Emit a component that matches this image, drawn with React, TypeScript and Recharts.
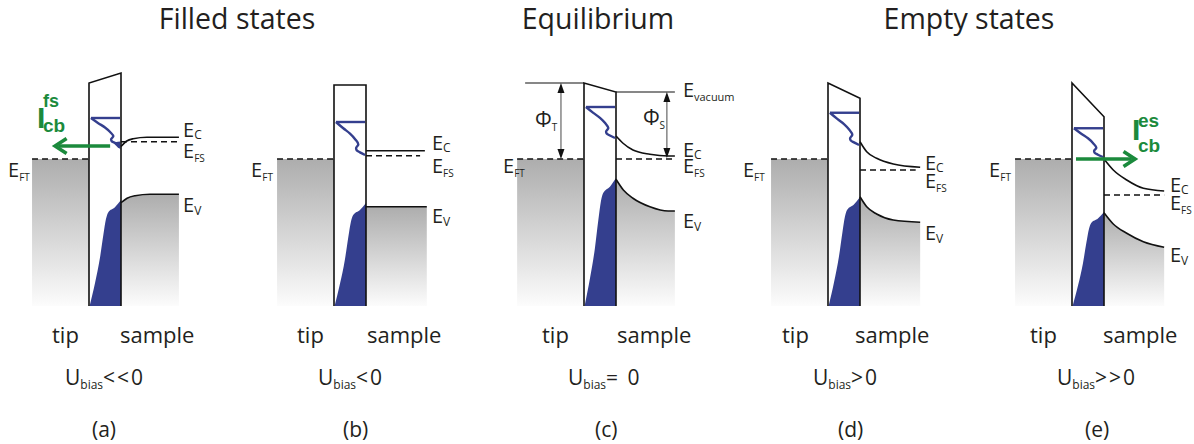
import React from "react";
import { ComposedChart, Area, Line, XAxis, YAxis, ReferenceDot } from "recharts";

// Energies in eV measured from the tip Fermi level E_FT.
// Distance in barrier widths: 0 = tip surface, 1 = sample surface.
const E_BOTTOM = -5.88;

const titles = ["Filled states", "Equilibrium", "Empty states"];
const panelNames = ["(a)", "(b)", "(c)", "(d)", "(e)"];
const biasText = ["<<0", "<0", "= 0", ">0", ">>0"];

const tipStart = [-1.78, -1.78, -2.09, -1.78, -1.78];
const barrierTopTip = [3.04, 2.96, 3.04, 3.04, 3.04];
const barrierTopSample = [3.44, 2.96, 2.68, 2.43, 1.69];
const efs = [0.69, 0.13, 0, -0.44, -1.44];
const efsEnd = [2.78, 2.69, 2.84, 2.74, 2.88];

// conduction band edge [x, E]
const ecA = [[1, 0.5], [1.18, 0.72], [1.38, 0.81], [1.81, 0.87], [2.81, 0.87]];
const ecB = [[1, 0.33], [2.84, 0.33]];
const ecC = [[1, 0.92], [1.22, 0.63], [1.53, 0.36], [2.06, 0.19], [2.63, 0.12], [2.84, 0.12]];
const ecD = [[1, 0.69], [1.21, 0.29], [1.52, 0.03], [2.04, -0.2], [2.88, -0.33]];
const ecE = [[1, 0], [1.29, -0.44], [1.71, -0.84], [2.23, -1.17], [2.88, -1.28]];

// valence band edge [x, E]
const evA = [[1, -1.75], [1.19, -1.57], [1.44, -1.47], [1.91, -1.41], [2.81, -1.41]];
const evB = [[1, -1.91], [2.9, -1.91]];
const evC = [[1, -0.81], [1.23, -1.24], [1.53, -1.57], [2.06, -1.91], [2.63, -2.08], [2.84, -2.08]];
const evD = [[1, -1.51], [1.21, -1.91], [1.52, -2.2], [2.04, -2.44], [2.88, -2.53]];
const evE = [[1, -2.15], [1.29, -2.6], [1.71, -2.97], [2.23, -3.31], [2.88, -3.53]];

const ec = [ecA, ecB, ecC, ecD, ecE];
const ev = [evA, evB, evC, evD, evE];

// tip DOS: empty states (line) and filled states (area); shape = [x, fraction of span from top]
const emptyTop = [1.64, 1.48, 2.08, 1.85, 1.23];
const emptyBottom = [0.56, 0.16, 0.84, 0.56, 0.08];
const emptyShape = [[0.06, 0], [0.29, 0.19], [0.5, 0.35], [0.66, 0.52], [0.76, 0.68], [0.69, 0.79], [0.71, 0.86], [0.81, 0.92], [0.97, 1]];
const filledTop = [-1.64, -1.76, -0.76, -1.52, -2.12];
const filledShape = [[0.02, 1], [0.19, 0.78], [0.34, 0.55], [0.45, 0.325], [0.53, 0.18], [0.6, 0.117], [0.81, 0.068], [1, 0]];
// occupied conduction band pocket in (a): [x, low, high]
const pocketA = [[0.78, 0.62, 0.66], [0.9, 0.46, 0.69], [0.98, 0.4, 0.7]];

// vacuum level and work functions in (c)
const vacuumTip = 3.04;
const vacuumSample = 2.68;
const phiT = [-0.72, 3.04, 0];
const phiS = [2.59, 2.68, 0.04];

// tunnelling current arrows: panel, from x, to x, E
const currents = [
  { panel: 0, from: 0.66, to: -1.06, e: 0.52 },
  { panel: 4, from: 0.125, to: 1.97, e: 0 },
];

// label anchors
const rightLabelX = [2.94, 3.06, 3.09, 3.03, 3.06];
const ecLabelE = [0.88, 0.36, 0.08, -0.44, -1.32];
const efsLabelE = [0.04, -0.56, -0.56, -1.16, -2.04];
const evLabelE = [-2.12, -2.56, -2.76, -3.24, -4.12];
const eftLabelX = [-2.53, -2.59, -2.53, -2.66, -2.59];
const eftLabelE = [-0.72, -0.72, -0.56, -0.72, -0.72];

// layout (pixels)
const barrierLeftPx = [89, 334, 584, 828, 1072];
const titleX = [237, 598, 969];
const tipX = [52, 297, 542, 782, 1030];
const sampleX = [120, 367, 617, 855, 1103];
const biasX = [65, 318, 568, 813, 1057];
const nameX = [92, 343, 595, 838, 1085];

const FONT = "'Open Sans', sans-serif";
const INK = "#231f20";
const BLUE = "#343f8e";
const GREEN = "#1b8a3c";

const Sym = ({ x, y, main, sub, size = 20, subSize = 11, dy = 4 }: any) => (
  <text x={x} y={y} fontFamily={FONT} fontSize={size} fill={INK}>
    {main}
    <tspan fontSize={subSize} dy={dy}>{sub}</tspan>
  </text>
);

const pts = (arr: number[][]) => arr.map(([x, y]) => ({ x, y }));

const Panel = ({ i }: { i: number }) => {
  const gid = `gray${i}`;
  const tipArea = [{ x: tipStart[i], r: [E_BOTTOM, 0] }, { x: 0, r: [E_BOTTOM, 0] }];
  const sampleArea = ev[i].map(([x, e]) => ({ x, r: [E_BOTTOM, e] }));
  const fillArea = filledShape.map(([x, t]) => ({
    x,
    r: [E_BOTTOM, filledTop[i] - t * (filledTop[i] - E_BOTTOM)],
  }));
  const emptyLine = emptyShape.map(([x, t]) => ({
    x,
    y: emptyTop[i] - t * (emptyTop[i] - emptyBottom[i]),
  }));
  const barrier = pts([[0, E_BOTTOM], [0, barrierTopTip[i]], [1, barrierTopSample[i]], [1, E_BOTTOM]]);
  const cur = currents.find((c) => c.panel === i);
  const sgn = cur ? Math.sign(cur.from - cur.to) : 1;
  const plain = { dot: false, activeDot: false, isAnimationActive: false } as any;
  const black = { ...plain, stroke: "#111", strokeWidth: 1.6 };
  const dashed = { ...black, strokeDasharray: "6 4" };
  const region = { fillOpacity: 1, stroke: "none", activeDot: false, isAnimationActive: false } as any;

  return (
    <div style={{ position: "absolute", left: barrierLeftPx[i] - 96, top: 0, pointerEvents: "none" }}>
      <ComposedChart width={272} height={444} margin={{ top: 0, right: 0, bottom: 0, left: 0 }}>
        <defs>
          <linearGradient id={gid} x1="0" y1="0" x2="0" y2="1">
            <stop offset="0%" stopColor="#adadad" />
            <stop offset="100%" stopColor="#fcfcfc" />
          </linearGradient>
        </defs>
        <XAxis type="number" dataKey="x" domain={[-3, 5.5]} allowDataOverflow hide />
        <YAxis type="number" domain={[-11.4, 6.36]} allowDataOverflow hide />

        <Area data={tipArea} dataKey="r" type="linear" fill={`url(#${gid})`} {...region} />
        <Area data={sampleArea} dataKey="r" type="monotone" fill={`url(#${gid})`} {...region} />
        <Area data={fillArea} dataKey="r" type="monotone" fill={BLUE} {...region} />
        {i === 0 && (
          <Area data={pocketA.map(([x, lo, hi]) => ({ x, r: [lo, hi] }))} dataKey="r" type="linear" fill={BLUE} {...region} />
        )}

        <Line data={barrier} dataKey="y" type="linear" {...black} />
        <Line data={pts([[0.97, emptyTop[i]], [0.06, emptyTop[i]]])} dataKey="y" type="linear" stroke={BLUE} strokeWidth={2.4} {...plain} />
        <Line data={emptyLine} dataKey="y" type="monotoneY" stroke={BLUE} strokeWidth={2.4} {...plain} />

        <Line data={pts(ec[i])} dataKey="y" type="monotone" {...black} />
        <Line data={pts(ev[i])} dataKey="y" type="monotone" {...black} />
        <Line data={pts([[tipStart[i], 0], [0, 0]])} dataKey="y" type="linear" {...dashed} />
        <Line data={pts([[1, efs[i]], [efsEnd[i], efs[i]]])} dataKey="y" type="linear" {...dashed} />

        {i === 2 && [
          <Line key="vt" data={pts([[-1.84, vacuumTip], [0, vacuumTip]])} dataKey="y" type="linear" {...black} strokeWidth={1.2} />,
          <Line key="vs" data={pts([[1, vacuumSample], [2.84, vacuumSample]])} dataKey="y" type="linear" {...black} strokeWidth={1.2} />,
          ...[phiT, phiS].map(([x, hi, lo], k) => (
            <Line key={`phi${k}`} data={pts([[x, hi - 0.3], [x, lo + 0.3]])} dataKey="y" type="linear" stroke="#666" strokeWidth={1.2} {...plain} />
          )),
          ...[phiT, phiS].flatMap(([x, hi, lo], k) => [
            <ReferenceDot key={`hu${k}`} x={x} y={hi} ifOverflow="visible"
              shape={(p: any) => <path d={`M${p.cx},${p.cy} l-3.5,10 l7,0 z`} fill="#111" />} />,
            <ReferenceDot key={`hd${k}`} x={x} y={lo} ifOverflow="visible"
              shape={(p: any) => <path d={`M${p.cx},${p.cy} l-3.5,-10 l7,0 z`} fill="#111" />} />,
          ]),
          <ReferenceDot key="lt" x={-1.53} y={1.28} ifOverflow="visible"
            shape={(p: any) => <Sym x={p.cx} y={p.cy} main="Φ" sub="T" size={21} subSize={10} />} />,
          <ReferenceDot key="ls" x={1.84} y={1.36} ifOverflow="visible"
            shape={(p: any) => <Sym x={p.cx} y={p.cy} main="Φ" sub="S" size={21} subSize={10} />} />,
          <ReferenceDot key="lv" x={3.09} y={2.48} ifOverflow="visible"
            shape={(p: any) => <Sym x={p.cx} y={p.cy} main="E" sub="vacuum" subSize={11} />} />,
        ]}

        {cur && [
          <Line key="cl" data={pts([[cur.from, cur.e], [cur.to + sgn * 0.1, cur.e]])} dataKey="y" type="linear" stroke={GREEN} strokeWidth={3.6} {...plain} />,
          <Line key="ch" data={pts([[cur.to + sgn * 0.36, cur.e + 0.3], [cur.to, cur.e], [cur.to + sgn * 0.36, cur.e - 0.3]])} dataKey="y" type="linear" stroke={GREEN} strokeWidth={3.6} strokeLinejoin="miter" {...plain} />,
        ]}
        {i === 0 && (
          <ReferenceDot x={-1.625} y={1.24} ifOverflow="visible"
            shape={(p: any) => (
              <g fill={GREEN} fontFamily="'Liberation Sans', Arial, sans-serif" fontWeight="bold">
                <text x={p.cx} y={p.cy} fontSize={30}>I</text>
                <text x={p.cx + 6} y={p.cy - 21} fontSize={18}>fs</text>
                <text x={p.cx + 6} y={p.cy + 4} fontSize={19}>cb</text>
              </g>
            )} />
        )}
        {i === 4 && (
          <ReferenceDot x={1.875} y={0.76} ifOverflow="visible"
            shape={(p: any) => (
              <g fill={GREEN} fontFamily="'Liberation Sans', Arial, sans-serif" fontWeight="bold">
                <text x={p.cx} y={p.cy} fontSize={30}>I</text>
                <text x={p.cx + 6} y={p.cy - 13} fontSize={19}>es</text>
                <text x={p.cx + 6} y={p.cy + 12} fontSize={19}>cb</text>
              </g>
            )} />
        )}

        <ReferenceDot x={rightLabelX[i]} y={ecLabelE[i]} ifOverflow="visible"
          shape={(p: any) => <Sym x={p.cx} y={p.cy} main="E" sub="C" subSize={12} dy={2} />} />
        <ReferenceDot x={rightLabelX[i]} y={efsLabelE[i]} ifOverflow="visible"
          shape={(p: any) => <Sym x={p.cx} y={p.cy} main="E" sub="FS" subSize={10} dy={4} />} />
        <ReferenceDot x={rightLabelX[i]} y={evLabelE[i]} ifOverflow="visible"
          shape={(p: any) => <Sym x={p.cx} y={p.cy} main="E" sub="V" subSize={12} dy={3} />} />
        <ReferenceDot x={eftLabelX[i]} y={eftLabelE[i]} ifOverflow="visible"
          shape={(p: any) => <Sym x={p.cx} y={p.cy} main="E" sub="FT" subSize={10} dy={4} />} />
      </ComposedChart>
    </div>
  );
};

export default function App() {
  return (
    <div style={{ position: "absolute", left: 0, top: 0, width: 1194, height: 444, overflow: "hidden", background: "#fff" }}>
      {panelNames.map((_, i) => (
        <Panel key={i} i={i} />
      ))}
      <svg width={1194} height={444} style={{ position: "absolute", left: 0, top: 0, pointerEvents: "none" }}>
        {titles.map((t, k) => (
          <text key={t} x={titleX[k]} y={29} textAnchor="middle" fontFamily={FONT} fontSize={28.5} fill={INK}>
            {t}
          </text>
        ))}
        {panelNames.map((n, i) => (
          <g key={n} fontFamily={FONT} fill={INK}>
            <text x={tipX[i]} y={343} fontSize={22}>tip</text>
            <text x={sampleX[i]} y={343} fontSize={22}>sample</text>
            <text x={biasX[i]} y={385} fontSize={21}>
              U<tspan fontSize={12} dy={4}>bias</tspan>
              <tspan dy={-4} letterSpacing={2}>{biasText[i]}</tspan>
            </text>
            <text x={nameX[i]} y={437} fontSize={21}>{n}</text>
          </g>
        ))}
      </svg>
    </div>
  );
}
